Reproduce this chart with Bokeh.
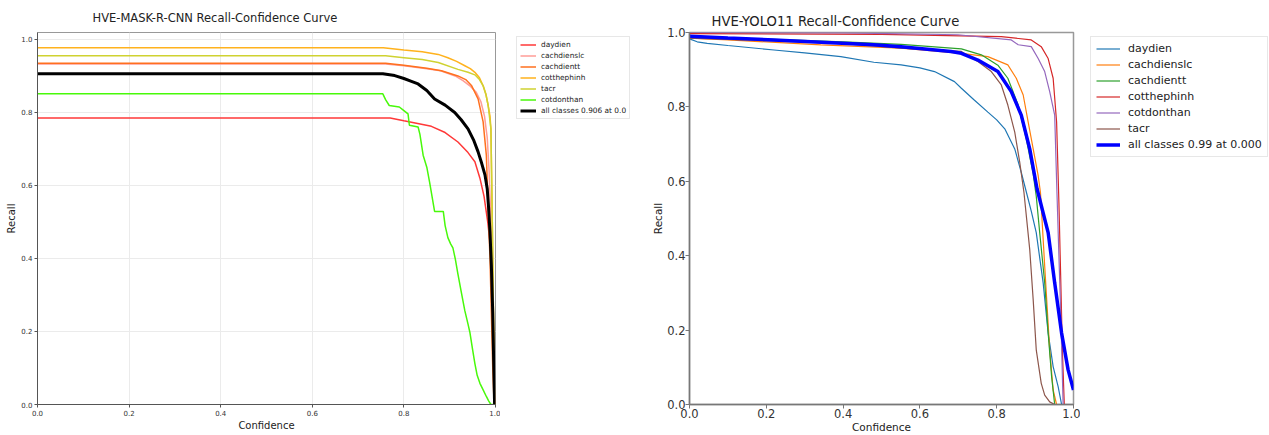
from bokeh.plotting import figure
from bokeh.layouts import row
from bokeh.models import Legend, LegendItem, FixedTicker, PrintfTickFormatter
from bokeh.embed import file_html
from bokeh.resources import INLINE

FONT = "DejaVu Sans"

# ---------------- data ----------------
ticks = [0.0, 0.2, 0.4, 0.6, 0.8, 1.0]
tick_format = "%.1f"

# Left: HVE-MASK-R-CNN
mask_title = "HVE-MASK-R-CNN  Recall-Confidence Curve"
mask_names = ["daydien", "cachdienslc", "cachdientt", "cotthephinh", "tacr", "cotdonthan"]
mask_colors = ["#FF3838", "#FF9D97", "#FF701F", "#FFB21D", "#CFD231", "#48F90A"]

mask_daydien_x = [0.0, 0.77, 0.80, 0.83, 0.86, 0.89, 0.918, 0.94, 0.955, 0.966, 0.975, 0.983, 0.991, 0.994, 0.996, 0.998, 1.0]
mask_daydien_y = [0.785, 0.785, 0.777, 0.770, 0.762, 0.745, 0.719, 0.690, 0.665, 0.620, 0.570, 0.500, 0.410, 0.300, 0.150, 0.0, 0.0]

mask_cachdienslc_x = [0.0, 0.76, 0.80, 0.85, 0.88, 0.912, 0.929, 0.944, 0.958, 0.968, 0.976, 0.982, 0.986, 0.990, 0.993, 0.996, 0.998, 1.0]
mask_cachdienslc_y = [0.933, 0.933, 0.928, 0.920, 0.914, 0.900, 0.887, 0.873, 0.855, 0.830, 0.790, 0.730, 0.640, 0.500, 0.350, 0.150, 0.0, 0.0]

mask_cachdientt_x = [0.0, 0.76, 0.80, 0.85, 0.882, 0.918, 0.935, 0.948, 0.962, 0.973, 0.980, 0.984, 0.988, 0.991, 0.994, 0.997, 1.0]
mask_cachdientt_y = [0.935, 0.935, 0.929, 0.921, 0.914, 0.900, 0.890, 0.873, 0.837, 0.774, 0.683, 0.538, 0.400, 0.250, 0.100, 0.0, 0.0]

mask_cotthephinh_x = [0.0, 0.755, 0.80, 0.84, 0.875, 0.896, 0.915, 0.933, 0.945, 0.955, 0.965, 0.973, 0.979, 0.984, 0.988, 0.990, 0.993, 0.996, 0.998, 1.0]
mask_cotthephinh_y = [0.977, 0.977, 0.971, 0.966, 0.959, 0.950, 0.940, 0.928, 0.920, 0.910, 0.895, 0.873, 0.850, 0.819, 0.790, 0.755, 0.500, 0.200, 0.0, 0.0]

mask_tacr_x = [0.0, 0.76, 0.80, 0.84, 0.875, 0.918, 0.940, 0.955, 0.965, 0.973, 0.979, 0.984, 0.990, 0.993, 0.996, 0.998, 1.0]
mask_tacr_y = [0.955, 0.955, 0.950, 0.945, 0.937, 0.918, 0.910, 0.903, 0.890, 0.873, 0.850, 0.819, 0.755, 0.500, 0.200, 0.0, 0.0]

mask_cotdonthan_x = [0.0, 0.754, 0.760, 0.768, 0.790, 0.800, 0.809, 0.812, 0.831, 0.835, 0.842, 0.850, 0.856, 0.867, 0.886, 0.890, 0.896, 0.902, 0.907, 0.912, 0.918, 0.925, 0.933, 0.940, 0.944, 0.950, 0.955, 0.960, 0.966, 0.973, 0.980, 0.985, 0.990, 1.0]
mask_cotdonthan_y = [0.851, 0.851, 0.835, 0.819, 0.815, 0.805, 0.796, 0.765, 0.760, 0.740, 0.683, 0.650, 0.610, 0.529, 0.529, 0.490, 0.457, 0.440, 0.429, 0.400, 0.357, 0.310, 0.257, 0.220, 0.198, 0.150, 0.112, 0.080, 0.058, 0.040, 0.022, 0.010, 0.0, 0.0]

mask_all_label = "all classes 0.906 at 0.0"
mask_all_x = [0.0, 0.754, 0.78, 0.80, 0.815, 0.831, 0.85, 0.867, 0.89, 0.911, 0.925, 0.94, 0.952, 0.962, 0.970, 0.977, 0.982, 0.985, 0.988, 0.991, 0.994, 0.996, 0.998, 1.0]
mask_all_y = [0.906, 0.906, 0.901, 0.893, 0.886, 0.878, 0.860, 0.837, 0.820, 0.800, 0.780, 0.755, 0.725, 0.692, 0.660, 0.629, 0.590, 0.538, 0.470, 0.380, 0.250, 0.120, 0.0, 0.0]

# Right: HVE-YOLO11
yolo_title = "HVE-YOLO11  Recall-Confidence Curve"
yolo_names = ["daydien", "cachdienslc", "cachdientt", "cotthephinh", "cotdonthan", "tacr"]
yolo_colors = ["#1f77b4", "#ff7f0e", "#2ca02c", "#d62728", "#9467bd", "#8c564b"]

yolo_daydien_x = [0.0, 0.02, 0.046, 0.10, 0.22, 0.30, 0.394, 0.48, 0.551, 0.60, 0.638, 0.69, 0.708, 0.74, 0.777, 0.80, 0.821, 0.847, 0.864, 0.875, 0.89, 0.903, 0.921, 0.934, 0.947, 0.96, 0.969, 1.0]
yolo_daydien_y = [0.983, 0.975, 0.971, 0.965, 0.953, 0.945, 0.935, 0.920, 0.913, 0.905, 0.895, 0.868, 0.850, 0.820, 0.786, 0.765, 0.741, 0.687, 0.624, 0.580, 0.520, 0.462, 0.327, 0.192, 0.102, 0.048, 0.0, 0.0]

yolo_cachdienslc_x = [0.0, 0.10, 0.342, 0.551, 0.708, 0.777, 0.829, 0.851, 0.869, 0.882, 0.895, 0.908, 0.914, 0.925, 0.938, 0.947, 0.956, 1.0]
yolo_cachdienslc_y = [0.985, 0.980, 0.967, 0.958, 0.944, 0.935, 0.913, 0.877, 0.832, 0.759, 0.687, 0.615, 0.570, 0.372, 0.147, 0.039, 0.0, 0.0]

yolo_cachdientt_x = [0.0, 0.20, 0.40, 0.551, 0.708, 0.76, 0.803, 0.829, 0.856, 0.877, 0.895, 0.903, 0.912, 0.925, 0.934, 0.943, 0.951, 1.0]
yolo_cachdientt_y = [0.990, 0.982, 0.975, 0.968, 0.956, 0.940, 0.912, 0.877, 0.805, 0.714, 0.620, 0.560, 0.462, 0.327, 0.192, 0.075, 0.0, 0.0]

yolo_cotthephinh_x = [0.0, 0.50, 0.812, 0.89, 0.916, 0.934, 0.947, 0.956, 0.962, 0.967, 0.971, 0.976, 1.0]
yolo_cotthephinh_y = [0.997, 0.995, 0.989, 0.980, 0.962, 0.930, 0.877, 0.759, 0.543, 0.327, 0.147, 0.0, 0.0]

yolo_cotdonthan_x = [0.0, 0.40, 0.699, 0.838, 0.856, 0.89, 0.908, 0.925, 0.938, 0.951, 0.956, 0.962, 0.967, 0.973, 1.0]
yolo_cotdonthan_y = [1.0, 0.999, 0.994, 0.980, 0.967, 0.962, 0.930, 0.895, 0.841, 0.778, 0.600, 0.400, 0.237, 0.0, 0.0]

yolo_tacr_x = [0.0, 0.20, 0.40, 0.551, 0.708, 0.751, 0.786, 0.812, 0.829, 0.847, 0.86, 0.871, 0.886, 0.895, 0.903, 0.916, 0.925, 0.938, 0.951, 1.0]
yolo_tacr_y = [0.985, 0.978, 0.970, 0.958, 0.949, 0.922, 0.895, 0.859, 0.805, 0.732, 0.651, 0.570, 0.417, 0.282, 0.147, 0.057, 0.025, 0.007, 0.0, 0.0]

yolo_all_label = "all classes 0.99 at 0.000"
yolo_all_x = [0.0, 0.10, 0.22, 0.48, 0.551, 0.681, 0.708, 0.751, 0.803, 0.838, 0.864, 0.886, 0.905, 0.934, 0.951, 0.969, 0.986, 1.0]
yolo_all_y = [0.990, 0.985, 0.980, 0.967, 0.962, 0.949, 0.944, 0.926, 0.895, 0.841, 0.778, 0.687, 0.580, 0.462, 0.327, 0.192, 0.093, 0.039]

mask_series = [
    (mask_daydien_x, mask_daydien_y), (mask_cachdienslc_x, mask_cachdienslc_y),
    (mask_cachdientt_x, mask_cachdientt_y), (mask_cotthephinh_x, mask_cotthephinh_y),
    (mask_tacr_x, mask_tacr_y), (mask_cotdonthan_x, mask_cotdonthan_y),
]
yolo_series = [
    (yolo_daydien_x, yolo_daydien_y), (yolo_cachdienslc_x, yolo_cachdienslc_y),
    (yolo_cachdientt_x, yolo_cachdientt_y), (yolo_cotthephinh_x, yolo_cotthephinh_y),
    (yolo_cotdonthan_x, yolo_cotdonthan_y), (yolo_tacr_x, yolo_tacr_y),
]

H = 435
TOP, BOT = 32, 31   # frames of all plots in the row share these borders


def style_axes(p, tick_size, label_size, tick_out, axis_color, axis_width, label_color, lab_so, ax_so):
    for ax in (p.xaxis[0], p.yaxis[0]):
        ax.ticker = FixedTicker(ticks=ticks)
        ax.formatter = PrintfTickFormatter(format=tick_format)
        ax.minor_tick_line_color = None
        ax.major_tick_in = 0
        ax.major_tick_out = tick_out
        ax.major_tick_line_color = axis_color
        ax.axis_line_color = axis_color
        ax.axis_line_width = axis_width
        ax.major_label_text_font = FONT
        ax.major_label_text_font_size = tick_size
        ax.major_label_text_color = label_color
        ax.major_label_standoff = lab_so
        ax.axis_label_text_font = FONT
        ax.axis_label_text_font_size = label_size
        ax.axis_label_text_font_style = "normal"
        ax.axis_label_text_color = "#222222"
        ax.axis_label_standoff = ax_so
    p.xaxis.axis_label = "Confidence"
    p.yaxis.axis_label = "Recall"


def legend_panel(width, left, margin, items_spec, font_size, glyph_w, item_h, spacing, padding, standoff):
    lf = figure(width=width, height=H, x_range=(0, 1), y_range=(0, 1),
                output_backend="svg", toolbar_location=None,
                x_axis_location=None, y_axis_location=None,
                min_border_left=left, min_border_top=TOP, min_border_right=0, min_border_bottom=BOT)
    lf.outline_line_color = None
    lf.grid.grid_line_color = None
    items = []
    for label, col, lw in items_spec:
        # legend proxy: drawn outside the visible range, only its legend glyph shows
        r = lf.line([-5.0, -4.0], [-5.0, -5.0], line_color=col, line_width=lw)
        items.append(LegendItem(label=label, renderers=[r]))
    lg = Legend(items=items, location="top_left",
                label_text_font=FONT, label_text_font_size=font_size, label_text_color="#222222",
                glyph_width=glyph_w, glyph_height=item_h, label_height=item_h,
                spacing=spacing, padding=padding, label_standoff=standoff, margin=margin,
                border_line_color="#d0d0d0", border_line_width=1,
                background_fill_color="white", background_fill_alpha=1.0)
    lf.add_layout(lg, "center")
    return lf


def style_title(p, text, size, offset, standoff):
    p.title.text = text
    p.title.align = "left"
    p.title.offset = offset
    p.title.standoff = standoff
    p.title.text_font = FONT
    p.title.text_font_size = size
    p.title.text_font_style = "normal"
    p.title.text_color = "#222222"


# ---------------- left chart ----------------
L_W = 500
L_LEFT, L_FW = 37, 458
pl = figure(width=L_W, height=H, x_range=(0.0, 1.0), y_range=(0.0, 1.019),
            output_backend="svg", toolbar_location=None,
            min_border_left=L_LEFT, min_border_right=L_W - L_LEFT - L_FW,
            min_border_top=TOP, min_border_bottom=BOT)
style_title(pl, mask_title, "11.5px", 55, 16)
pl.outline_line_color = "#999999"
pl.outline_line_width = 1
pl.grid.grid_line_color = "#ebebeb"
pl.grid.grid_line_width = 1
pl.xgrid.ticker = FixedTicker(ticks=ticks)
pl.ygrid.ticker = FixedTicker(ticks=ticks)
style_axes(pl, "7px", "10px", 3, "#555555", 1, "#333333", 2, 1)

for (xs, ys), name, col in zip(mask_series, mask_names, mask_colors):
    pl.line(xs, ys, line_color=col, line_width=1.5)
pl.line(mask_all_x, mask_all_y, line_color="black", line_width=3)

leg_l = legend_panel(148, 12, 4,
                     [(n, c, 1.5) for n, c in zip(mask_names, mask_colors)] + [(mask_all_label, "black", 3)],
                     "7.4px", 16, 9, 2, 3, 5)

# ---------------- right chart ----------------
R_W = 432
R_LEFT, R_FW = 41, 384
pr = figure(width=R_W, height=H, x_range=(0.0, 1.0), y_range=(0.0, 1.0),
            output_backend="svg", toolbar_location=None,
            min_border_left=R_LEFT, min_border_right=R_W - R_LEFT - R_FW,
            min_border_top=TOP, min_border_bottom=BOT)
style_title(pr, yolo_title, "13.2px", 22, 7)
pr.outline_line_color = "#999999"
pr.outline_line_width = 1.5
pr.grid.grid_line_color = None
style_axes(pr, "11.5px", "10.5px", 4, "#777777", 1.5, "#333333", 0, 0)

for (xs, ys), name, col in zip(yolo_series, yolo_names, yolo_colors):
    pr.line(xs, ys, line_color=col, line_width=1.2)
pr.line(yolo_all_x, yolo_all_y, line_color="#0000ff", line_width=3.5)

leg_r = legend_panel(1269 - 1080, 6, 4,
                     [(n, c, 1.2) for n, c in zip(yolo_names, yolo_colors)] + [(yolo_all_label, "#0000ff", 3.5)],
                     "11px", 24, 13, 3, 5, 8)

layout = row(pl, leg_l, pr, leg_r)
open("out.html", "w").write(file_html(layout, INLINE))
